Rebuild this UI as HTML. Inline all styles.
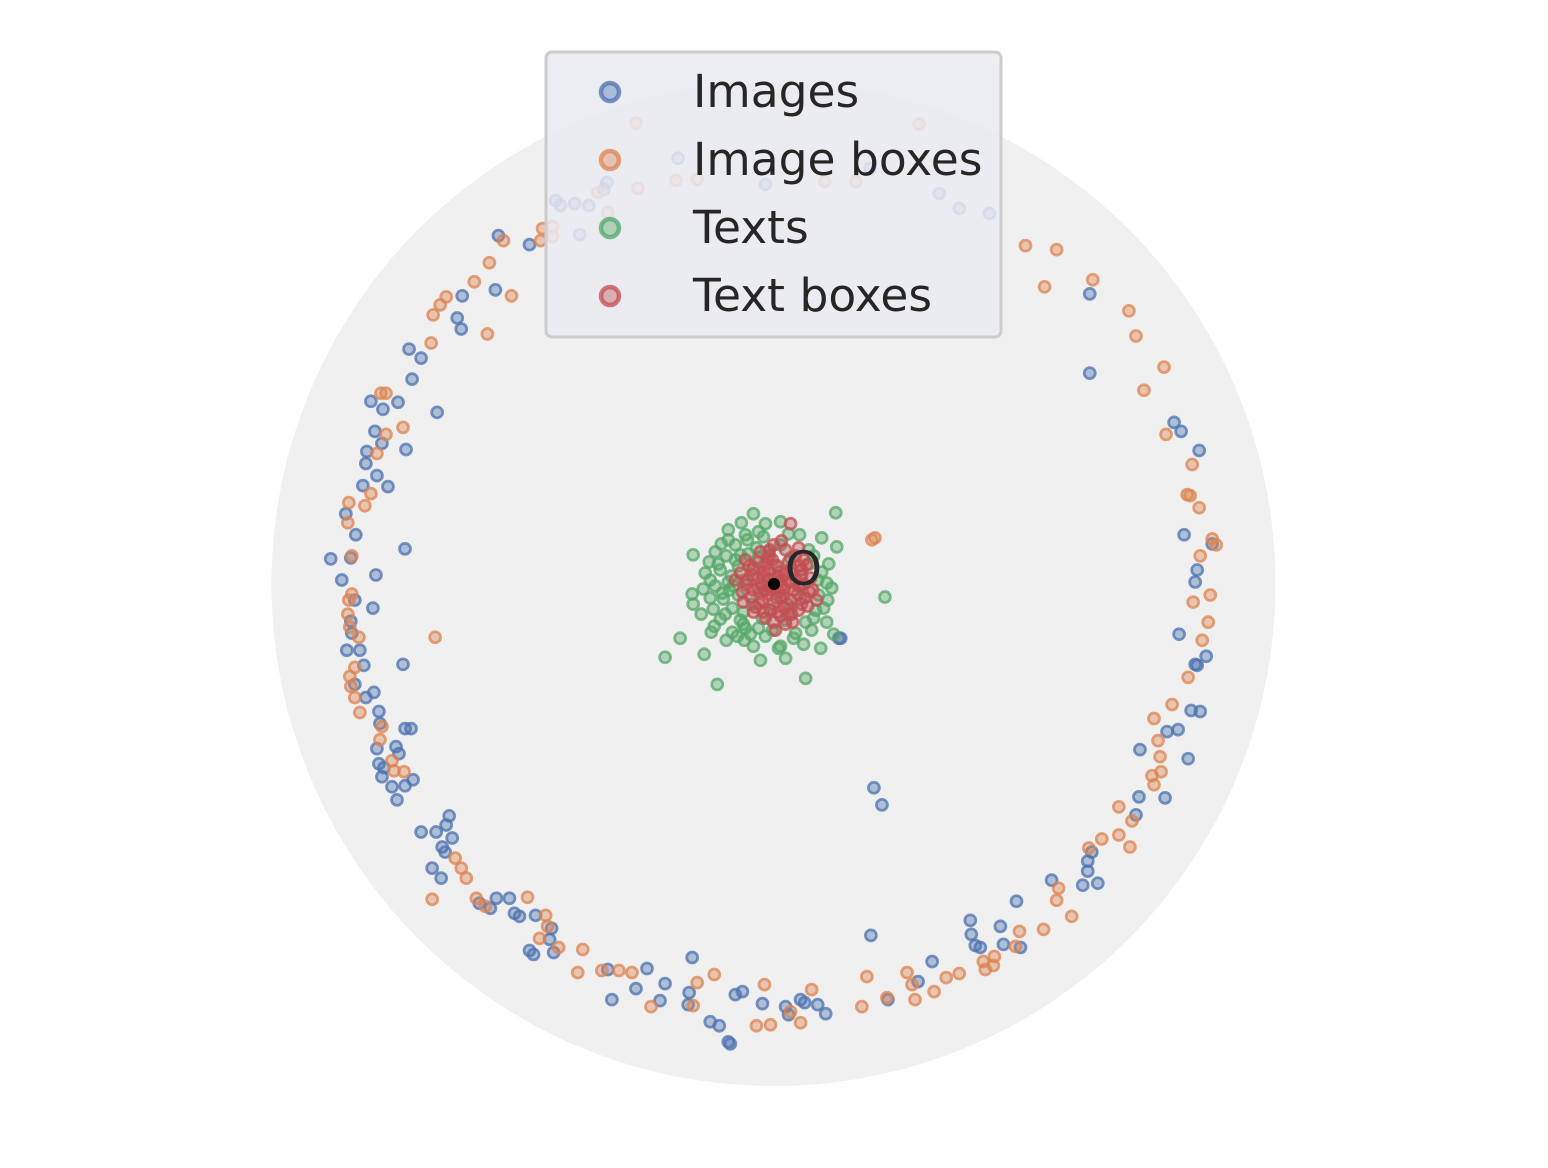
<!DOCTYPE html>
<html><head><meta charset="utf-8"><style>
html,body{margin:0;padding:0;background:#fff;}
svg{display:block;font-family:"DejaVu Sans","Liberation Sans",sans-serif;}
</style></head><body>
<svg id="chart" width="1548" height="1168" viewBox="0 0 1548 1168" xmlns="http://www.w3.org/2000/svg">
<circle cx="773.5" cy="584" r="502" fill="#f0f0f0"/>
<g id="points"></g>
<circle cx="774" cy="584" r="6" fill="#000"/>
<text x="785" y="585" font-size="47" fill="#262626">O</text>
<g>
<rect x="546" y="52" width="455" height="285" rx="6" fill="#eaeaf2" fill-opacity="0.85" stroke="#cccccc" stroke-width="3"/>
<g id="legend-items"></g>
</g>
</svg>
<script>
const seriesNames = ["Images","Image boxes","Texts","Text boxes"];
const seriesColors = ["#4c72b0","#dd8452","#55a868","#c44e52"];
const imagesPts = [[-274,347],[-243,338],[-310,287],[-277,293],[-315,265],[-311,254],[-363,234],[-351,225],[-360,204],[-335,171],[-401,182],[-389,174],[-374,181],[-397,152],[-390,140],[-405,132],[-406,120],[-395,108],[-409,98],[-384,97],[-366,134],[-426,70],[-416,49],[-441,25],[-421,26],[-367,35],[-396,9],[-430,4],[-417,-16],[-399,-24],[-421,-37],[-420,-49],[-412,-66],[-425,-66],[-408,-81],[-369,-80],[-417,-100],[-406,-113],[-398,-108],[-393,-127],[-392,-139],[-367,-144],[-361,-144],[-395,-164],[-376,-162],[-373,-169],[-393,-179],[-388,-183],[-390,-192],[-359,-195],[-367,-201],[-380,-202],[-375,-215],[-323,-231],[-326,-240],[-351,-247],[-336,-247],[-320,-253],[-330,-262],[-327,-267],[-340,-283],[-331,-293],[-293,-318],[-282,-323],[-276,-313],[-263,-313],[-258,-328],[-253,-331],[-237,-330],[-221,-343],[-223,-354],[-243,-365],[-239,-369],[-219,-367],[-165,-384],[-126,-383],[-108,-398],[-137,-403],[-161,-414],[-113,-415],[-81,-372],[-84,-407],[-85,-419],[-63,-436],[-54,-440],[-45,-456],[-43,-458],[-38,-409],[-31,-406],[-11,-418],[12,-421],[15,-429],[27,-414],[31,-417],[44,-419],[52,-428],[114,-414],[97,-350],[144,-396],[158,-376],[201,-360],[197,-349],[196,-335],[206,-362],[226,-341],[229,-359],[246,-362],[242,-316],[277,-295],[308,-300],[313,-286],[313,-276],[317,-267],[323,-298],[361,-230],[364,-212],[390,-213],[365,-165],[392,-147],[413,-174],[416,-126],[425,-127],[403,-145],[420,-80],[422,-81],[431,-72],[404,-50],[420,2],[422,14],[409,49],[437,40],[424,133],[399,161],[406,152],[315,289],[315,210],[100,-203],[108,-220],[67,-54],[65,-54],[185,374],[215,369],[165,389],[-8,398],[-193,348],[-217,382],[-212,377],[-198,379],[-184,377],[-169,393],[-166,400],[-95,424],[96,414]];
const imageBoxesPts = [[-137,459],[145,458],[251,337],[282,333],[318,303],[270,296],[354,272],[361,247],[389,216],[369,193],[391,149],[417,119],[412,89],[415,88],[424,76],[425,28],[437,45],[441,39],[418,-18],[435,-11],[433,-38],[427,-56],[413,-93],[379,-134],[397,-120],[383,-156],[385,-172],[377,-191],[386,-187],[379,-200],[344,-222],[357,-236],[344,-250],[355,-262],[327,-254],[314,-263],[297,-331],[282,-315],[269,-344],[284,-303],[245,-346],[241,-361],[220,-371],[219,-380],[209,-376],[211,-384],[185,-388],[172,-392],[160,-406],[138,-399],[133,-387],[141,-414],[113,-412],[93,-391],[88,-421],[38,-404],[27,-437],[17,-426],[-3,-439],[-9,-399],[-17,-440],[-59,-389],[-76,-397],[-80,-420],[-122,-421],[-141,-387],[-154,-385],[-171,-385],[-195,-387],[-190,-364],[-214,-362],[-225,-341],[-233,-353],[-227,-330],[-245,-312],[-296,-313],[-287,-321],[-306,-293],[-311,-283],[-317,-273],[-340,-314],[-337,-53],[-368,-187],[-378,-186],[-380,-176],[-392,-155],[-390,-142],[-412,-128],[-417,-113],[-421,-102],[-422,-92],[-417,-83],[-413,-53],[-422,-43],[-424,-30],[-423,-16],[-420,-10],[-420,28],[-424,61],[-423,81],[-407,78],[-401,90],[-395,130],[-386,149],[-369,156],[-391,190],[-386,190],[-332,278],[-339,268],[-326,286],[-341,240],[-285,249],[-298,301],[-283,320],[-261,287],[-269,342],[-232,342],[-220,346],[-230,354],[-220,356],[-175,390],[-165,370],[-135,394],[-97,402],[-76,403],[51,401],[82,401],[101,46],[98,44]];
const textsPts = [[-20,70],[62,71],[-32,61],[-8,60],[7,62],[-45,54],[-28,49],[-10,47],[26,49],[48,46],[-26,44],[-38,39],[-17,36],[-5,32],[7,39],[35,34],[63,37],[-80,29],[-58,32],[-47,28],[-33,29],[-15,26],[17,26],[40,28],[-68,11],[-53,14],[-35,18],[-21,14],[2,18],[27,14],[48,12],[-63,4],[-45,2],[-29,4],[-5,4],[27,-1],[53,1],[-81,-10],[-63,-14],[-51,-9],[-35,-11],[-13,-8],[7,-14],[27,-14],[45,-11],[111,-13],[-80,-20],[-41,-24],[-21,-20],[-3,-26],[17,-24],[42,-26],[-53,-35],[-33,-36],[-11,-34],[12,-36],[32,-38],[53,-38],[-59,-42],[-41,-48],[-23,-50],[-1,-46],[22,-49],[38,-46],[-93,-54],[-47,-56],[-29,-56],[-8,-52],[5,-64],[47,-64],[-108,-73],[-69,-70],[-13,-76],[12,-74],[32,-94],[-56,-100],[7,-62],[-28,-44],[54,-16],[-55,20],[-40,-2],[-60,-25],[-70,-5],[-45,44],[30,-60],[-20,-62],[60,-50],[55,20],[-50,-15],[-58,-2],[-42,8],[-38,24],[-25,30],[-48,-30],[-30,-28],[-15,-44],[-36,-52],[20,-54],[40,-34],[50,-24],[44,4],[36,20],[-64,22],[-72,-30],[-52,40],[-30,-40],[-44,-6],[-62,-48],[58,-4],[-15,52],[15,50]];
const textBoxesPts = [[17,60],[0,39],[8,43],[-13,32],[12,34],[25,36],[-28,24],[-15,22],[-1,24],[15,22],[33,19],[-33,11],[-21,9],[-9,12],[5,8],[19,10],[37,6],[-27,-1],[-15,-4],[-3,-2],[11,-4],[25,-2],[39,-6],[-23,-13],[-11,-16],[3,-14],[17,-16],[31,-14],[-18,-23],[-3,-26],[11,-24],[25,-26],[-8,-34],[7,-32],[19,-38],[-31,-8],[43,-16],[2,-46],[-38,4],[0,0],[8,4],[-8,-6],[12,10],[-5,14],[20,-6],[-15,6],[6,-8],[28,8],[-20,-28],[15,-30],[30,24],[-4,28],[-8,20],[4,18],[18,16],[28,14],[-20,16],[-26,4],[-12,0],[2,6],[16,2],[30,0],[-20,-6],[-6,-10],[10,-12],[24,-10],[36,-8],[-14,-20],[0,-20],[14,-20],[28,-20],[-10,-28],[4,-28],[18,-30],[0,-38],[12,-40],[-24,18],[22,28],[-4,34],[-30,-18],[34,-22],[-2,-6],[6,12],[-10,8],[22,4],[8,-2],[-6,26],[26,18]];
const seriesData = [imagesPts, imageBoxesPts, textsPts, textBoxesPts];
const seriesKeys = ["images","image-boxes","texts","text-boxes"];

const cx = 773.5, cy = 584, R = 502, DOMAIN = 500;
function xScale(v){ return cx + v * R / DOMAIN; }
function yScale(v){ return cy - v * R / DOMAIN; }
const NS = "http://www.w3.org/2000/svg";

function marker(parent, x, y, r, color){
  const g = document.createElementNS(NS, "g");
  const c1 = document.createElementNS(NS, "circle");
  c1.setAttribute("cx", x); c1.setAttribute("cy", y); c1.setAttribute("r", r);
  c1.setAttribute("fill", color); c1.setAttribute("fill-opacity", "0.4");
  c1.setAttribute("stroke", color); c1.setAttribute("stroke-opacity", "0.75");
  c1.setAttribute("stroke-width", r*0.5);
  g.appendChild(c1);
  parent.appendChild(g);
  return g;
}

const pts = document.getElementById("points");
seriesData.forEach((arr, si) => {
  const grp = document.createElementNS(NS, "g");
  
  
  pts.appendChild(grp);
  arr.forEach(p => {
    const m = marker(grp, xScale(p[0]), yScale(p[1]), 5.5, seriesColors[si]);
    
    
  });
});

const leg = document.getElementById("legend-items");
const rowY = [92, 160, 228, 296];
seriesNames.forEach((n, i) => {
  const g = document.createElementNS(NS, "g");
  
  
  leg.appendChild(g);
  const m = marker(g, 610, rowY[i], 9, seriesColors[i]);
  
  
  const t = document.createElementNS(NS, "text");
  t.setAttribute("x", 693); t.setAttribute("y", rowY[i] + 15);
  t.setAttribute("font-size", "45.5"); t.setAttribute("fill", "#262626");
  t.textContent = n;
  
  
  g.appendChild(t);
});
</script>
</body></html>
